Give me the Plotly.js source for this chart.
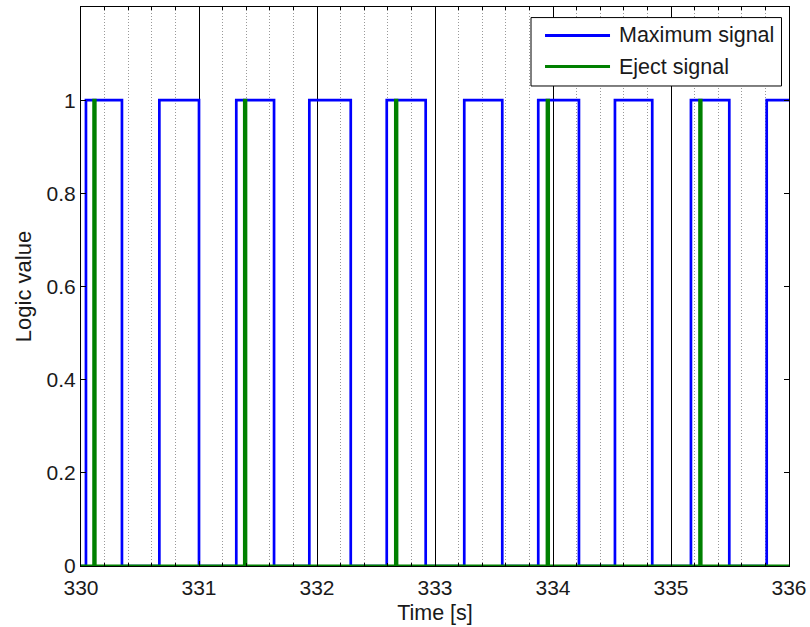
<!DOCTYPE html>
<html>
<head>
<meta charset="utf-8">
<script src="https://cdn.plot.ly/plotly-3.0.1.min.js"></script>
<style>html,body{margin:0;padding:0;background:#fff;}#chart{width:810px;height:627px;}</style>
</head>
<body>
<div id="chart"></div>
<script>
// Maximum signal: rising and falling edge times [s]
const maxRise = [330.042, 330.664, 331.316, 331.935, 332.591, 333.248, 333.875, 334.525, 335.169, 335.811];
const maxFall = [330.347, 331.000, 331.636, 332.286, 332.921, 333.570, 334.220, 334.841, 335.494];
// Eject signal: short pulses
const ejectRise = [330.108, 331.385, 332.665, 333.950, 335.243];
const ejectFall = [330.120, 331.397, 332.677, 333.962, 335.255];
const tStart = 330, tEnd = 336.2;
const legendNames = ['Maximum signal', 'Eject signal'];
const colors = ['#0000ff', '#008000'];

function stepSeries(rises, falls) {
  const x = [tStart], y = [0];
  const ev = [];
  rises.forEach(t => ev.push([t, 1]));
  falls.forEach(t => ev.push([t, 0]));
  ev.sort((a, b) => a[0] - b[0]);
  ev.forEach(e => { x.push(e[0]); y.push(e[1]); });
  x.push(tEnd); y.push(y[y.length - 1]);
  return {x, y};
}

const s1 = stepSeries(maxRise, maxFall);
const s2 = stepSeries(ejectRise, ejectFall);

const traces = [
  {x: s1.x, y: s1.y, type: 'scatter', mode: 'lines', line: {shape: 'hv', color: colors[0], width: 2.7}, name: legendNames[0], showlegend: false},
  {x: s2.x, y: s2.y, type: 'scatter', mode: 'lines', line: {shape: 'hv', color: colors[1], width: 3}, name: legendNames[1], showlegend: false}
];

// manual legend (paper coords)
const L = {x0: 0.6356, x1: 0.9894, y0: 0.8587, y1: 0.9811};
const rows = [0.9492, 0.8935];
const shapes = [
  {type: 'rect', xref: 'paper', yref: 'paper', x0: L.x0, x1: L.x1, y0: L.y0, y1: L.y1, fillcolor: '#fff', line: {color: '#000', width: 1}, layer: 'above'}
];
const annotations = [];
legendNames.forEach((n, i) => {
  shapes.push({type: 'line', xref: 'paper', yref: 'paper', x0: 0.6554, x1: 0.7472, y0: rows[i], y1: rows[i], line: {color: colors[i], width: 3}, layer: 'above'});
  annotations.push({xref: 'paper', yref: 'paper', x: 0.7571, y: rows[i], xanchor: 'left', yanchor: 'middle', text: n, showarrow: false, font: {size: 21.5, color: '#1a1a1a'}});
});

const layout = {
  width: 810, height: 627,
  margin: {l: 81, r: 21, t: 7, b: 61},
  paper_bgcolor: '#fff', plot_bgcolor: '#fff',
  font: {family: 'Liberation Sans, Arial, sans-serif', size: 21, color: '#1a1a1a'},
  showlegend: false,
  xaxis: {
    range: [330, 336], tick0: 330, dtick: 1, tickformat: 'd',
    showline: true, linecolor: '#000', linewidth: 1, mirror: 'ticks',
    ticks: 'inside', ticklen: 5, tickcolor: '#000',
    showgrid: true, gridcolor: '#000', gridwidth: 1,
    zeroline: false,
    minor: {dtick: 0.2, tick0: 330, showgrid: true, gridcolor: '#999999', griddash: '1px,2px', gridwidth: 1, ticks: 'inside', ticklen: 3, tickcolor: '#000'},
    title: {text: 'Time [s]', font: {size: 21.5}, standoff: 6},
    ticklabelstandoff: 3
  },
  yaxis: {
    range: [0, 1.2], tickvals: [0, 0.2, 0.4, 0.6, 0.8, 1], ticktext: ['0', '0.2', '0.4', '0.6', '0.8', '1'],
    showline: true, linecolor: '#000', linewidth: 1, mirror: 'ticks',
    ticks: 'inside', ticklen: 5, tickcolor: '#000',
    showgrid: false, zeroline: false,
    title: {text: 'Logic value', font: {size: 22}, standoff: 8},
    ticklabelstandoff: 0
  },
  shapes: shapes,
  annotations: annotations
};

Plotly.newPlot('chart', traces, layout, {displayModeBar: false, staticPlot: true});
</script>
</body>
</html>
